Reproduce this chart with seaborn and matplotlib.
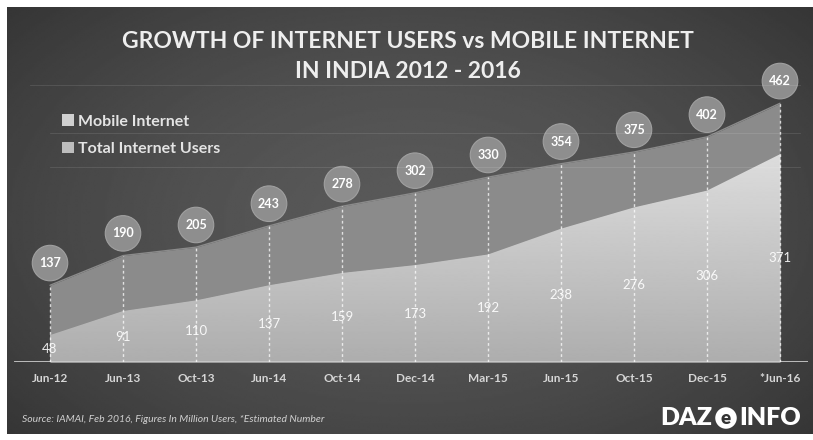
import numpy as np
import pandas as pd
import matplotlib
matplotlib.use("Agg")
import matplotlib.pyplot as plt
import seaborn as sns
from matplotlib.lines import Line2D
from matplotlib.patches import Patch

# Internet users in India, million users (*Jun-16 estimated)
periods = ["Jun-12", "Jun-13", "Oct-13", "Jun-14", "Oct-14", "Dec-14",
           "Mar-15", "Jun-15", "Oct-15", "Dec-15", "*Jun-16"]
total_users = [137, 190, 205, 243, 278, 302, 330, 354, 375, 402, 462]
mobile_users = [48, 91, 110, 137, 159, 173, 192, 238, 276, 306, 371]

df = pd.DataFrame({"idx": np.arange(len(periods)), "period": periods,
                   "total": total_users, "mobile": mobile_users})

W, H = 813, 440
sns.set_theme(style="dark")
plt.rcParams["font.family"] = ["Lato", "DejaVu Sans"]

fig = plt.figure(figsize=(W / 100, H / 100), dpi=100, facecolor="white")


def fx(px):
    return px / W


def fy(py):
    return 1 - py / H


# dark backdrop panel with a soft radial light
bg = fig.add_axes([fx(7), fy(434), fx(W - 7), (434 - 7) / H])
yy, xx = np.mgrid[0:1:220j, 0:1:440j]
r = np.sqrt(((xx - 0.5) / 0.75) ** 2 + ((yy - 0.5) / 0.85) ** 2)
shade = 0.35 - 0.17 * np.clip(r, 0, 1) ** 1.6
bg.imshow(shade, cmap="gray", vmin=0, vmax=1, aspect="auto",
          extent=[0, 1, 0, 1], interpolation="bilinear")
bg.axis("off")

# faint horizontal rules
for y0, x0 in [(85, 30), (133, 50), (167, 50)]:
    fig.add_artist(Line2D([fx(x0), fx(800)], [fy(y0)] * 2,
                          color="white", alpha=0.10, lw=0.8))

# main plotting area
ax = fig.add_axes([fx(14), fy(362), fx(808 - 14), (362 - 60) / H])
ax.set_facecolor("none")
XMIN, XMAX = -(50 - 14) / 73, 10 + (808 - 780) / 73
YMAX = (362 - 60) / 0.56

total_color = "#8b8b8b"
sns.lineplot(data=df, x="idx", y="total", color=total_color, lw=1, ax=ax)
ax.fill_between(df["idx"], 0, df["total"], color=total_color, lw=0, zorder=2)

mob_poly = ax.fill_between(df["idx"], 0, df["mobile"], color="#c8c8c8",
                           lw=0, zorder=3)
grad = np.linspace(0.68, 0.88, 256).reshape(-1, 1)
im = ax.imshow(grad, cmap="gray", vmin=0, vmax=1, aspect="auto",
               origin="lower", extent=[XMIN, XMAX, 0, 400 * 1.0],
               zorder=3.5, interpolation="bilinear")
im.set_clip_path(mob_poly.get_paths()[0], transform=ax.transData)

# baseline
ax.axhline(0, color="#c9c9c9", lw=2, zorder=4)

# dashed guides at each period
for i, v in zip(df["idx"], df["total"]):
    ax.plot([i, i], [0, v], color="white", lw=1, alpha=0.75,
            dashes=(2, 2), zorder=5)

# total users in circles above each point
for i, v in zip(df["idx"], df["total"]):
    ax.annotate(str(v), xy=(i, v), xytext=(0, 16), textcoords="offset points",
                ha="center", va="center", fontsize=9, fontweight="bold",
                color="white", zorder=6, annotation_clip=False,
                bbox=dict(boxstyle="circle,pad=0.55", fc="#8e8e8e",
                          ec="#a0a0a0", lw=0.8))

# mobile values inside the mobile area
for i, v in zip(df["idx"], df["mobile"]):
    ax.text(i, v / 2, str(v), ha="center", va="center", fontsize=9.5,
            color="white", alpha=0.9, zorder=6)

ax.set_xlim(XMIN, XMAX)
ax.set_ylim(0, YMAX)
ax.set_xticks(df["idx"])
ax.set_xticklabels(periods, fontsize=8.5, fontweight="bold", color="#d6d6d6")
ax.tick_params(axis="x", length=0, pad=8)
ax.set_yticks([])
ax.set_xlabel("")
ax.set_ylabel("")
ax.grid(False)
for s in ax.spines.values():
    s.set_visible(False)

# title
fig.text(0.502, fy(42), "GROWTH OF INTERNET USERS vs MOBILE INTERNET",
         ha="center", va="center", fontsize=16.5, fontweight="bold",
         color="#eeeeee")
fig.text(0.502, fy(72), "IN INDIA 2012 - 2016", ha="center", va="center",
         fontsize=16.5, fontweight="bold", color="#eeeeee")

# legend
handles = [Patch(fc="#d0d0d0", ec="none"), Patch(fc="#bdbdbd", ec="none")]
fig.legend(handles, ["Mobile Internet", "Total Internet Users"],
           loc="upper left", bbox_to_anchor=(fx(48), fy(100)),
           frameon=False, handlelength=0.7, handleheight=0.7,
           handletextpad=0.3, labelspacing=0.85,
           prop={"size": 11.5, "weight": "bold"}, labelcolor="#e4e4e4")

# footer
fig.text(fx(22), fy(419),
         "Source: IAMAI, Feb 2016, Figures In Million Users, *Estimated Number",
         ha="left", va="center", fontsize=7.5, style="italic", color="#d0d0d0")
fig.text(fx(712), fy(418), "DAZ", ha="right", va="center", fontsize=18,
         fontweight="heavy", color="white")
fig.text(fx(726), fy(418), "e", ha="center", va="center", fontsize=13.5,
         fontweight="heavy", color="#333333",
         bbox=dict(boxstyle="circle,pad=0.12", fc="white", ec="none"))
fig.text(fx(739), fy(418), "INFO", ha="left", va="center", fontsize=18,
         fontweight="heavy", color="white")

fig.savefig("out.png", dpi=100, facecolor="white")
